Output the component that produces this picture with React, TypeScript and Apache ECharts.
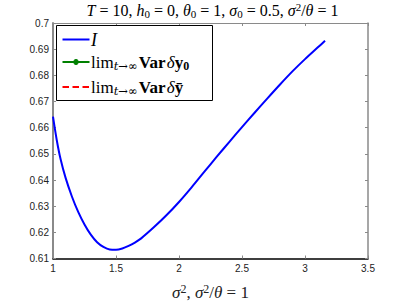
import React, { useEffect, useRef } from "react";
import * as echarts from "echarts";

const xValues = [1.0, 1.03, 1.06, 1.1, 1.15, 1.2, 1.25, 1.3, 1.35, 1.4, 1.45, 1.5, 1.55, 1.6, 1.65, 1.7, 1.8, 1.9, 2.0, 2.1, 2.2, 2.3, 2.4, 2.5, 2.6, 2.7, 2.8, 2.9, 3.0, 3.1, 3.159];
const iValues = [0.6642, 0.6552, 0.648, 0.6408, 0.6337, 0.6278, 0.623, 0.6191, 0.6162, 0.6144, 0.6134, 0.6133, 0.6138, 0.6148, 0.6161, 0.6177, 0.6219, 0.6265, 0.6316, 0.6372, 0.6431, 0.6489, 0.6546, 0.6602, 0.6657, 0.6711, 0.6764, 0.6815, 0.6862, 0.6906, 0.6932];
const xTicks = { min: 1, max: 3.5, interval: 0.5 };
const yTicks = { min: 0.61, max: 0.7, interval: 0.01 };
const seriesNames = ["I", "lim Var δy0", "lim Var δȳ"];

const SERIF = "'Liberation Serif', 'DejaVu Serif', serif";
const SUBSERIF = "'DejaVu Serif', 'Liberation Serif', serif";
const SANS = "'Liberation Sans', Arial, sans-serif";
const GRAY = "#8a8a8a";

export default function App() {
  const ref = useRef<HTMLDivElement>(null);
  useEffect(() => {
    if (!ref.current) return;
    const chart = echarts.init(ref.current, null, { renderer: "svg" });
    const legRich: any = {
      r: { fontFamily: SERIF, fontSize: 17, color: "#000", lineHeight: 20 },
      it: { fontFamily: SERIF, fontStyle: "italic", fontSize: 17, color: "#000", lineHeight: 20 },
      big: { fontFamily: SERIF, fontStyle: "italic", fontSize: 18, color: "#000", lineHeight: 20 },
      b: { fontFamily: SERIF, fontWeight: "bold", fontSize: 17, color: "#000", lineHeight: 20 },
      sp: { fontFamily: SERIF, fontSize: 5, color: "#000", lineHeight: 20 },
      sub: { fontFamily: SUBSERIF, fontStyle: "italic", fontSize: 11.5, color: "#000", verticalAlign: "bottom", lineHeight: 13 },
      bsub: { fontFamily: SERIF, fontWeight: "bold", fontSize: 12, color: "#000", verticalAlign: "bottom", lineHeight: 13 },
    };
    const legendText = [
      "{big|I}",
      "{r|lim}{sub|t→∞}{sp| }{b|Var}{sp| }{it|δ}{b|y}{bsub|0}",
      "{r|lim}{sub|t→∞}{sp| }{b|Var}{sp| }{it|δ}{b|y\u0304}",
    ];
    const legendColors = ["#0000ff", "#008000", "#ff0000"];
    const rowsY = [39.5, 62, 87];
    const L = { x: 56.5, y: 25.5, w: 156, h: 75, lineX0: 62.5, lineX1: 89.5, textX: 91 };

    const legendGraphics: any[] = [
      {
        type: "rect",
        z: 100,
        shape: { x: L.x, y: L.y, width: L.w, height: L.h },
        style: { fill: "#fff", stroke: "#000", lineWidth: 1 },
      },
    ];
    seriesNames.forEach((_, k) => {
      legendGraphics.push({
        type: "line",
        z: 101,
        shape: { x1: L.lineX0, y1: rowsY[k], x2: L.lineX1, y2: rowsY[k] },
        style: {
          stroke: legendColors[k],
          lineWidth: 2,
          lineDash: k === 2 ? [6.5, 3.5] : null,
        },
      });
      if (k === 1) {
        legendGraphics.push({
          type: "circle",
          z: 102,
          shape: { cx: (L.lineX0 + L.lineX1) / 2, cy: rowsY[k], r: 2.5 },
          style: { fill: legendColors[k], stroke: legendColors[k] },
        });
      }
      legendGraphics.push({
        type: "text",
        z: 102,
        x: L.textX,
        y: rowsY[k],
        style: { text: legendText[k], rich: legRich, align: "left", verticalAlign: "middle" },
      });
    });

    const titleRich: any = {
      r: { fontFamily: SERIF, fontSize: 16, color: "#222", lineHeight: 18 },
      i: { fontFamily: SERIF, fontStyle: "italic", fontSize: 16, color: "#222", lineHeight: 18 },
      s: { fontFamily: SERIF, fontSize: 11, color: "#222", verticalAlign: "bottom", lineHeight: 12 },
      p: { fontFamily: SERIF, fontSize: 11, color: "#222", verticalAlign: "top", lineHeight: 12 },
    };
    const axisNameRich: any = {
      r: { fontFamily: SERIF, fontSize: 17, color: "#222", lineHeight: 20 },
      i: { fontFamily: SERIF, fontStyle: "italic", fontSize: 17, color: "#222", lineHeight: 20 },
      p: { fontFamily: SERIF, fontSize: 12, color: "#222", verticalAlign: "top", lineHeight: 12 },
    };
    const data = xValues.map((x, k) => [x, iValues[k]]);
    chart.setOption({
      animation: false,
      backgroundColor: "#fff",
      grid: { left: 53, right: 39, top: 23, bottom: 35 },
      graphic: [
        {
          type: "text",
          x: 212.5,
          y: 1,
          style: {
            text: "{i|T}{r| = 10, }{i|h}{s|0}{r| = 0, }{i|θ}{s|0}{r| = 1, }{i|σ}{s|0}{r| = 0.5, }{i|σ}{p|2}{r|/}{i|θ}{r| = 1}",
            align: "center",
            verticalAlign: "top",
            rich: titleRich,
          },
        },
        ...legendGraphics,
      ],
      xAxis: [
        {
          type: "value",
          position: "bottom",
          min: xTicks.min,
          max: xTicks.max,
          interval: xTicks.interval,
          axisLine: { show: true, lineStyle: { color: "#000", width: 1.5 } },
          axisTick: { show: true, inside: true, length: 3, lineStyle: { color: GRAY } },
          axisLabel: { fontFamily: SANS, fontSize: 10, color: "#222", margin: 5 },
          splitLine: { show: false },
          name: "{i|σ}{p|2}{r|, }{i|σ}{p|2}{r|/}{i|θ}{r| = 1}",
          nameLocation: "middle",
          nameGap: 24,
          nameTextStyle: { rich: axisNameRich },
        },
        {
          type: "value",
          position: "top",
          min: xTicks.min,
          max: xTicks.max,
          interval: xTicks.interval,
          axisLine: { show: true, lineStyle: { color: GRAY, width: 1.2 } },
          axisTick: { show: true, inside: true, length: 3, lineStyle: { color: GRAY } },
          axisLabel: { show: false },
          splitLine: { show: false },
        },
      ],
      yAxis: [
        {
          type: "value",
          position: "left",
          min: yTicks.min,
          max: yTicks.max,
          interval: yTicks.interval,
          axisLine: { show: true, lineStyle: { color: GRAY, width: 2 } },
          axisTick: { show: true, inside: true, length: 3, lineStyle: { color: GRAY } },
          axisLabel: { fontFamily: SANS, fontSize: 10, color: "#222", margin: 4 },
          splitLine: { show: false },
        },
        {
          type: "value",
          position: "right",
          min: yTicks.min,
          max: yTicks.max,
          interval: yTicks.interval,
          axisLine: { show: true, lineStyle: { color: GRAY, width: 1.5 } },
          axisTick: { show: true, inside: true, length: 3, lineStyle: { color: GRAY } },
          axisLabel: { show: false },
          splitLine: { show: false },
        },
      ],
      series: [
        {
          name: seriesNames[0],
          type: "line",
          data,
          showSymbol: false,
          symbol: "none",
          smooth: 0.3,
          lineStyle: { color: "#0000ff", width: 2 },
          itemStyle: { color: "#0000ff" },
          z: 3,
        },
        {
          name: seriesNames[1],
          type: "line",
          data: [],
          symbol: "circle",
          symbolSize: 5,
          lineStyle: { color: "#008000", width: 2 },
          itemStyle: { color: "#008000" },
        },
        {
          name: seriesNames[2],
          type: "line",
          data: [],
          symbol: "none",
          lineStyle: { color: "#ff0000", width: 2, type: [6.5, 3.5] },
          itemStyle: { color: "#ff0000" },
        },
      ],
    });
    return () => chart.dispose();
  }, []);
  return (
    <div
      ref={ref}
      style={{ position: "fixed", left: 0, top: 0, width: 407, height: 306, background: "#fff" }}
    />
  );
}
